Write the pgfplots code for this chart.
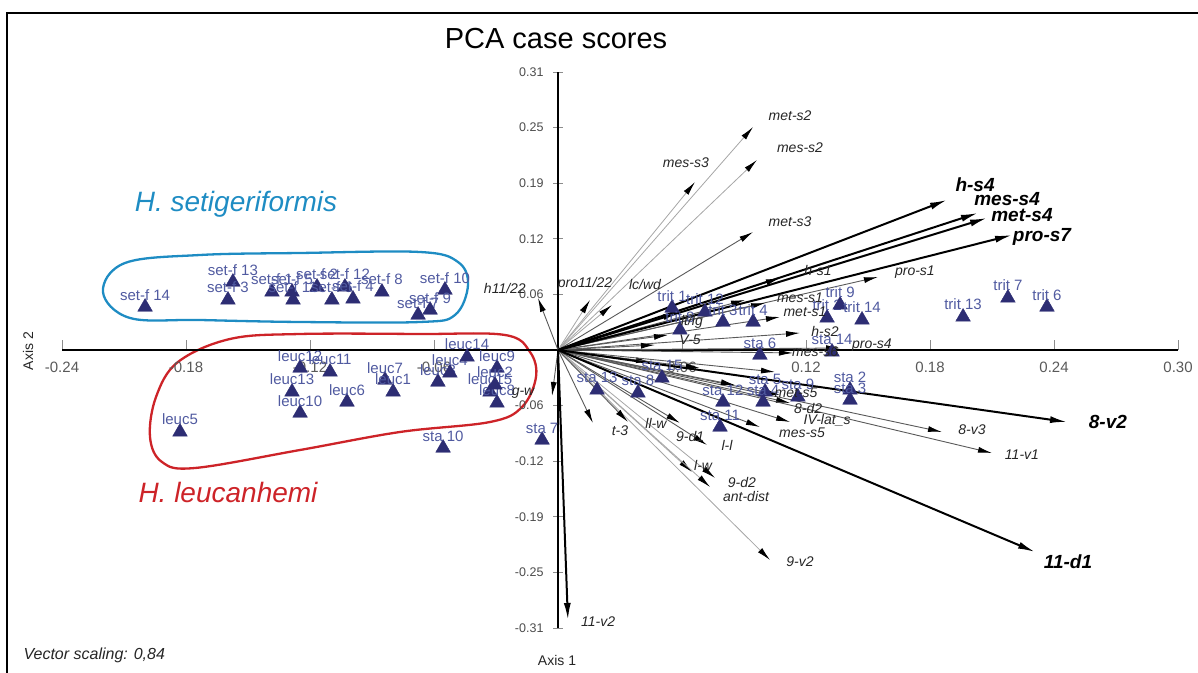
\documentclass[border=0pt]{standalone}
\usepackage{fontspec}
\setmainfont{Liberation Sans}
\usepackage{pgfplots}
\pgfplotsset{compat=1.18}
\usepackage{pgfplotstable}
\usetikzlibrary{arrows.meta}

\definecolor{tri}{RGB}{45,45,115}
\definecolor{plab}{RGB}{80,90,160}
\definecolor{setc}{RGB}{30,140,195}
\definecolor{leucc}{RGB}{205,35,40}

\pgfplotstableread[col sep=comma]{
x,y,lab
-0.1998,0.0479,set-f 14
-0.1573,0.0758,set-f 13
-0.1597,0.0558,set-f 3
-0.1384,0.0647,set-f 1
-0.1287,0.0647,set-f 5
-0.1282,0.0558,set-f 11
-0.1166,0.0703,set-f 2
-0.1094,0.0558,set-f 6
-0.1031,0.0703,set-f 12
-0.0992,0.0569,set-f 4
-0.0852,0.0647,set-f 8
-0.0547,0.0669,set-f 10
-0.0677,0.0390,set-f 7
-0.0619,0.0446,set-f 9
-0.1829,-0.0914,leuc5
-0.1248,-0.0201,leuc12
-0.1103,-0.0245,leuc11
-0.1287,-0.0468,leuc13
-0.1248,-0.0703,leuc10
-0.1021,-0.0580,leuc6
-0.0837,-0.0335,leuc7
-0.0798,-0.0468,leuc1
-0.0581,-0.0357,leuc3
-0.0523,-0.0256,leuc4
-0.0440,-0.0078,leuc14
-0.0295,-0.0201,leuc9
-0.0329,-0.0468,leuc15
-0.0295,-0.0591,leuc8
-0.0305,-0.0390,leuc2
-0.0556,-0.1093,sta 10
-0.0077,-0.1004,sta 7
0.0189,-0.0446,sta 13
0.0387,-0.0479,sta 8
0.0503,-0.0312,sta 15
0.0798,-0.0580,sta 12
0.0784,-0.0859,sta 11
0.1002,-0.0468,sta 5
0.0992,-0.0580,sta 4
0.1161,-0.0524,sta 9
0.1413,-0.0446,sta 2
0.1413,-0.0558,sta 3
0.0977,-0.0056,sta 6
0.1326,-0.0022,sta 14
0.0552,0.0468,trit 1
0.0711,0.0424,trit 12
0.0798,0.0312,trit 3
0.0944,0.0312,trit 4
0.1302,0.0357,trit 2
0.1365,0.0502,trit 9
0.1471,0.0335,trit 14
0.1960,0.0368,trit 13
0.2177,0.0580,trit 7
0.2366,0.0479,trit 6
0.0590,0.0223,trit 8
}\pts

\pgfplotstableread{
x y u v
0 0 0.1882 0.1673
0 0 0.2032 0.1528
0 0 0.2076 0.1472
0 0 0.2197 0.1282
0 0 0.2463 -0.0803
0 0 0.2308 -0.2252
0 0 0.0048 -0.3011
}\boldarr

\pgfplotstableread{
x y u v
0 0 0.0944 0.2487
0 0 0.0963 0.2119
0 0 0.0663 0.1873
0 0 0.0155 0.0558
0 0 0.0261 0.0502
0 0 0.0648 -0.1360
0 0 0.0760 -0.1427
0 0 0.0736 -0.1528
0 0 0.1026 -0.2342
}\lightarr

\pgfplotstableread{
x y u v
0 0 0.0944 0.1316
0 0 0.1074 0.0803
0 0 0.1548 0.0814
0 0 -0.0097 0.0580
0 0 -0.0029 -0.0513
0 0 0.0169 -0.0814
0 0 0.0339 -0.0803
0 0 0.0590 -0.0814
0 0 0.0721 -0.1059
0 0 0.0977 -0.0859
0 0 0.1123 -0.0803
0 0 0.1123 -0.0591
0 0 0.1074 -0.0502
0 0 0.1858 -0.0914
0 0 0.2100 -0.1149
0 0 0.1002 0.0524
0 0 0.1074 0.0368
0 0 0.1171 0.0190
0 0 0.1365 0.0022
0 0 0.1137 -0.0033
0 0 0.0576 0.0413
0 0 0.0532 0.0167
0 0 0.0469 0.0056
0 0 0.0905 0.0558
0 0 0.0445 -0.0134
0 0 0.0687 -0.0201
0 0 0.1050 -0.0245
0 0 0.0856 -0.0390
}\medarr

\pgfplotstableread[col sep=comma]{
x,y,lab
0.2018,0.1840,h-s4
0.2173,0.1684,mes-s4
0.2245,0.1505,met-s4
0.2342,0.1260,pro-s7
0.2661,-0.0803,8-v2
0.2468,-0.2364,11-d1
}\boldlab

\pgfplotstableread[col sep=comma]{
x,y,lab
0.1123,0.2609,met-s2
0.1171,0.2253,mes-s2
0.0619,0.2085,mes-s3
0.1123,0.1427,met-s3
0.1258,0.0881,h-s1
0.1727,0.0870,pro-s1
-0.0257,0.0691,h11/22
0.0131,0.0736,pro11/22
0.0421,0.0725,lc/wd
-0.0169,-0.0480,g-w
0.0300,-0.0903,t-3
0.0474,-0.0814,ll-w
0.0639,-0.0970,9-d1
0.0818,-0.1059,l-l
0.0702,-0.1282,l-w
0.0890,-0.1472,9-d2
0.0910,-0.1639,ant-dist
0.1171,-0.2364,9-v2
0.1181,-0.0926,mes-s5
0.1302,-0.0781,IV-lat\_s
0.1210,-0.0647,8-d2
0.1152,-0.0480,met-s5
0.2003,-0.0892,8-v3
0.2245,-0.1171,11-v1
0.0194,-0.3033,11-v2
0.1171,0.0580,mes-s1
0.1195,0.0424,met-s1
0.1292,0.0201,h-s2
0.1519,0.0056,pro-s4
0.1244,-0.0022,mes-s6
0.0648,0.0312,lt/lg
0.0639,0.0112,V-5
}\thinlab

\begin{document}
\begin{tikzpicture}
\useasboundingbox (0pt,0pt) rectangle (1198pt,672pt);
% frame
\draw[line width=1.8pt] (7pt,-10pt) -- (7pt,659pt) -- (1210pt,659pt);
% group outlines
\draw[setc, line width=2.3pt] plot[smooth cycle, tension=0.6] coordinates {(103pt,380pt) (125pt,409pt) (200pt,417pt) (300pt,419pt) (420pt,420pt) (458pt,410pt) (468pt,387pt) (455pt,357pt) (420pt,350pt) (300pt,350pt) (200pt,352pt) (130pt,354pt)};
\draw[leucc, line width=2.3pt] plot[smooth cycle, tension=0.6] coordinates {(300pt,338pt) (420pt,338pt) (505pt,337pt) (530pt,320pt) (536pt,295pt) (522pt,265pt) (490pt,250pt) (400pt,240pt) (300pt,222pt) (195pt,204pt) (162pt,210pt) (150pt,235pt) (156pt,275pt) (178pt,310pt) (230pt,333pt)};

\begin{axis}[
  at={(62pt,44pt)}, anchor=south west,
  scale only axis, width=1116pt, height=556pt,
  xmin=-0.24, xmax=0.30, ymin=-0.31, ymax=0.31,
  enlargelimits=false, clip=false,
  axis lines=middle,
  axis line style={line width=2.5pt,-,black},
  xtick={-0.24,-0.18,-0.12,-0.06,0.06,0.12,0.18,0.24,0.30},
  xticklabels={-0.24,-0.18,-0.12,-0.06,0.06,0.12,0.18,0.24,0.30},
  ytick={-0.31,-0.248,-0.186,-0.124,-0.062,0.062,0.124,0.186,0.248,0.31},
  yticklabels={-0.31,-0.25,-0.19,-0.12,-0.06,0.06,0.12,0.19,0.25,0.31},
  tick align=center, major tick length=10pt,
  tick style={black!45, line width=0.8pt},
  xtick style={yshift=5pt},
  x tick label style={font=\fontsize{15}{17}\selectfont, text=black!65, yshift=-3pt},
  y tick label style={font=\fontsize{12.5}{14}\selectfont, text=black!70, xshift=-6pt},
]
\addplot[black!35, line width=0.8pt, -{Latex[length=14pt,width=6pt,color=black]},
  quiver={u=\thisrow{u},v=\thisrow{v}}] table[x=x,y=y] {\lightarr};
\addplot[black!65, line width=0.9pt, -{Latex[length=14pt,width=6pt,color=black]},
  quiver={u=\thisrow{u},v=\thisrow{v}}] table[x=x,y=y] {\medarr};
\addplot[black, line width=2pt, -{Latex[length=17pt,width=7pt,color=black]},
  quiver={u=\thisrow{u},v=\thisrow{v}}] table[x=x,y=y] {\boldarr};

\addplot[only marks, mark=triangle*, mark size=8.5pt, color=tri,
  nodes near coords, point meta=explicit symbolic,
  every node near coord/.append style={font=\fontsize{15}{17}\selectfont, text=plab, anchor=base, inner sep=0pt, yshift=7pt}]
  table[x=x,y=y,meta=lab] {\pts};

\addplot[draw=none, mark=none, nodes near coords, point meta=explicit symbolic,
  every node near coord/.append style={font=\fontsize{14}{16}\selectfont\itshape, text=black!85, anchor=center, inner sep=0pt}]
  table[x=x,y=y,meta=lab] {\thinlab};
\addplot[draw=none, mark=none, nodes near coords, point meta=explicit symbolic,
  every node near coord/.append style={font=\fontsize{19}{22}\selectfont\bfseries\itshape, text=black, anchor=center, inner sep=0pt}]
  table[x=x,y=y,meta=lab] {\boldlab};
\end{axis}

\node[font=\fontsize{29}{34}\selectfont] at (556pt,633pt) {PCA case scores};
\node[font=\fontsize{28}{32}\selectfont\itshape, text=setc] at (236pt,468pt) {H. setigeriformis};
\node[font=\fontsize{28}{32}\selectfont\itshape, text=leucc] at (228pt,180pt) {H. leucanhemi};
\node[anchor=west, font=\fontsize{16}{18}\selectfont\itshape, text=black!85] at (20pt,17pt) {Vector scaling: 0,84};
\node[font=\fontsize{14}{16}\selectfont, text=black!85] at (557pt,12pt) {Axis 1};
\node[rotate=90, font=\fontsize{14}{16}\selectfont, text=black!85] at (28pt,321pt) {Axis 2};
\end{tikzpicture}
\end{document}
